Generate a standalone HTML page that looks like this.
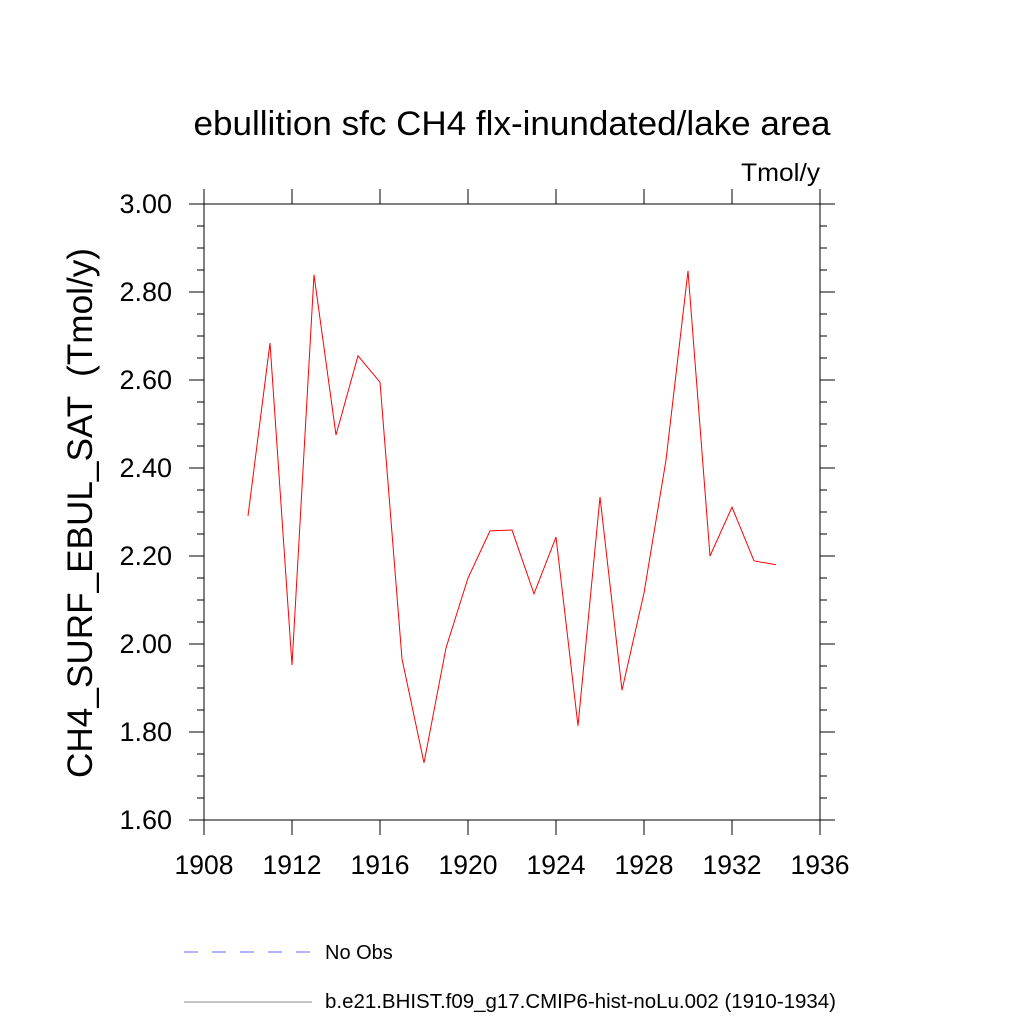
<!DOCTYPE html>
<html><head><meta charset="utf-8"><style>
body{margin:0;background:#fff}
svg text{font-family:"Liberation Sans",sans-serif}
</style></head><body>
<svg id="c" width="1024" height="1024" xmlns="http://www.w3.org/2000/svg">
<text x="512" y="135" font-size="34" text-anchor="middle" textLength="637" lengthAdjust="spacingAndGlyphs">ebullition sfc CH4 flx-inundated/lake area</text>
<text x="820" y="181" font-size="25" text-anchor="end" textLength="79" lengthAdjust="spacingAndGlyphs">Tmol/y</text>
<text transform="translate(92,513) rotate(-90)" font-size="35" text-anchor="middle" textLength="530" lengthAdjust="spacingAndGlyphs" style="white-space:pre">CH4_SURF_EBUL_SAT  (Tmol/y)</text>
<g id="axes"></g>
<g>
<line x1="184" y1="952" x2="312" y2="952" stroke="#6666ff" stroke-width="1" stroke-dasharray="14,14"/>
<text x="325" y="959" font-size="20">No Obs</text>
<line x1="184" y1="1002" x2="312" y2="1002" stroke="#888" stroke-width="1"/>
<text x="325" y="1008" font-size="20" textLength="511" lengthAdjust="spacingAndGlyphs">b.e21.BHIST.f09_g17.CMIP6-hist-noLu.002 (1910-1934)</text>
</g>
</svg>
<script>
const years=[1910,1911,1912,1913,1914,1915,1916,1917,1918,1919,1920,1921,1922,1923,1924,1925,1926,1927,1928,1929,1930,1931,1932,1933,1934];
const values=[2.291,2.684,1.952,2.839,2.475,2.655,2.595,1.966,1.730,1.991,2.150,2.257,2.259,2.114,2.243,1.814,2.334,1.895,2.116,2.418,2.848,2.200,2.311,2.189,2.180];
const xTicks=[1908,1912,1916,1920,1924,1928,1932,1936];
const yTicks=["1.60","1.80","2.00","2.20","2.40","2.60","2.80","3.00"];
const L=204,R=820,T=204,B=820,x0=1908,x1=1936,y0=1.6,y1=3.0;
const X=v=>L+(v-x0)/(x1-x0)*(R-L);
const Y=v=>B-(v-y0)/(y1-y0)*(B-T);
const NS="http://www.w3.org/2000/svg";
const g=document.getElementById('axes');
function mk(t,a,p){const e=document.createElementNS(NS,t);for(const k in a)e.setAttribute(k,a[k]);(p||g).appendChild(e);return e;}
const fr=mk('rect',{x:L,y:T,width:R-L,height:B-T,fill:'none',stroke:'#000','stroke-width':1});


xTicks.forEach(v=>{const x=X(v);
 const t1=mk('line',{x1:x,x2:x,y1:B,y2:B+15,stroke:'#000'});
 
 
 const t2=mk('line',{x1:x,x2:x,y1:T,y2:T-15,stroke:'#000'});
 
 
 const tx=mk('text',{x:x,y:874,'font-size':26.5,'text-anchor':'middle'});tx.textContent=v;
 
 
});
for(let i=0;i<=28;i++){const v=y0+i*0.05,y=Y(v),maj=i%4==0,len=maj?15:7;
 const a=mk('line',{x1:L-len,x2:L,y1:y,y2:y,stroke:'#000'});
 
 
 const b=mk('line',{x1:R,x2:R+len,y1:y,y2:y,stroke:'#000'});
 
 
}
yTicks.forEach(s=>{const tx=mk('text',{x:172,y:Y(parseFloat(s))+9,'font-size':27,'text-anchor':'end'});tx.textContent=s;
 
 
});
const ln=mk('polyline',{points:years.map((yr,i)=>X(yr)+','+Y(values[i])).join(' '),fill:'none',stroke:'#ff0000','stroke-width':1});


</script>
</body></html>
